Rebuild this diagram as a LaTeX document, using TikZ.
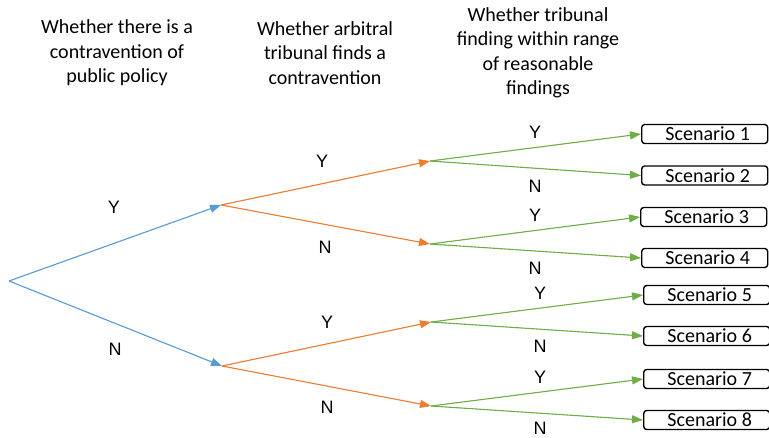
\documentclass[tikz,border=0pt]{standalone}
\usepackage{fontspec}
\setmainfont{Carlito}
\newfontfamily\ynfont{Liberation Sans}
\usetikzlibrary{arrows.meta}
\definecolor{cblue}{RGB}{91,155,213}
\definecolor{corange}{RGB}{237,125,49}
\definecolor{cgreen}{RGB}{112,173,71}
\tikzset{
  conn/.style={line width=1.1pt,-{Triangle[length=11pt,width=8pt]}},
  bluec/.style={conn,draw=cblue,fill=cblue},
  orangec/.style={conn,draw=corange,fill=corange},
  greenc/.style={conn,draw=cgreen,fill=cgreen},
  header/.style={align=center,font=\fontsize{20pt}{24.5pt}\selectfont,inner sep=0pt},
  yn/.style={font=\ynfont\fontsize{18pt}{20pt}\selectfont,inner sep=0pt},
  scen/.style={draw=black,line width=1.4pt,rounded corners=3pt,minimum width=126pt,minimum height=19pt,inner sep=0pt,anchor=west,font=\fontsize{20pt}{20pt}\selectfont}
}
\begin{document}
\begin{tikzpicture}[x=1pt,y=-1pt]
\useasboundingbox (0,0) rectangle (769,437);
% headers
\node[header] (h1) at (117,53) {Whether there is a\\contravention of\\public policy};
\node[header] (h2) at (325,53) {Whether arbitral\\tribunal finds a\\contravention};
\node[header] (h3) at (538,53) {Whether tribunal\\finding within range\\of reasonable\\findings};
% decision points
\coordinate (r) at (9,281);
\coordinate (a1) at (221,205);
\coordinate (a2) at (222,366);
\coordinate (b1) at (430,161);
\coordinate (b2) at (430,244);
\coordinate (b3) at (431,322);
\coordinate (b4) at (431,406);
% scenarios
\node[scen] (s1) at (641,134) {\hspace{6pt}Scenario 1};
\node[scen] (s2) at (641,175.5) {\hspace{6pt}Scenario 2};
\node[scen] (s3) at (640,217) {\hspace{6pt}Scenario 3};
\node[scen] (s4) at (641,258) {\hspace{6pt}Scenario 4};
\node[scen] (s5) at (643,295) {\hspace{6pt}Scenario 5};
\node[scen] (s6) at (643,336) {\hspace{6pt}Scenario 6};
\node[scen] (s7) at (643,379) {\hspace{6pt}Scenario 7};
\node[scen] (s8) at (643,420) {\hspace{6pt}Scenario 8};
% connectors
\draw[bluec] (r) -- (a1);
\draw[bluec] (r) -- (a2);
\draw[orangec] (a1) -- (b1);
\draw[orangec] (a1) -- (b2);
\draw[orangec] (a2) -- (b3);
\draw[orangec] (a2) -- (b4);
\draw[greenc] (b1) -- (s1.west);
\draw[greenc] (b1) -- (s2.west);
\draw[greenc] (b2) -- (s3.west);
\draw[greenc] (b2) -- (s4.west);
\draw[greenc] (b3) -- (s5.west);
\draw[greenc] (b3) -- (s6.west);
\draw[greenc] (b4) -- (s7.west);
\draw[greenc] (b4) -- (s8.west);
% labels
\node[yn] (l1) at (114,207) {Y};
\node[yn] (l2) at (115,349) {N};
\node[yn] (l3) at (322,161) {Y};
\node[yn] (l4) at (325,247) {N};
\node[yn] (l5) at (327,322) {Y};
\node[yn] (l6) at (327,407) {N};
\node[yn] (l7) at (535,132) {Y};
\node[yn] (l8) at (535,186) {N};
\node[yn] (l9) at (535,215) {Y};
\node[yn] (l10) at (535,268) {N};
\node[yn] (l11) at (540,293) {Y};
\node[yn] (l12) at (540,346) {N};
\node[yn] (l13) at (540,377) {Y};
\node[yn] (l14) at (540,428.5) {N};
\end{tikzpicture}
\end{document}
